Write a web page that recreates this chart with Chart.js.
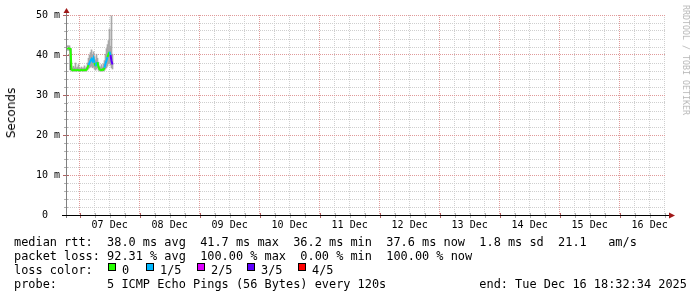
<!DOCTYPE html>
<html>
<head>
<meta charset="utf-8">
<script src="https://cdn.jsdelivr.net/npm/chart.js@4.4.1/dist/chart.umd.min.js"></script>
<style>
  body { margin: 0; background: #fff; }
  #wrap { position: relative; width: 697px; height: 297px; overflow: hidden; background: #fff; }
  #chart { position: absolute; left: 0; top: 0; }
  .txt { position: absolute; left: 14px; font-family: 'DejaVu Sans Mono', monospace; font-size: 11.9px; line-height: 14px; white-space: pre; color: #000; }
  .box { position: absolute; top: 263px; width: 6px; height: 6px; border: 1px solid #000; }
  #ylabel { position: absolute; left: 11px; top: 113px; transform: translate(-50%, -50%) rotate(-90deg); font-family: 'DejaVu Sans', sans-serif; font-size: 12px; color: #000; white-space: nowrap; }
  #credit { position: absolute; left: 686px; top: 60px; transform: translate(-50%, -50%) rotate(90deg); font-family: 'DejaVu Sans Mono', monospace; font-size: 8.3px; color: #b8b8b8; white-space: nowrap; }
</style>
</head>
<body>
<div id="wrap">
  <canvas id="chart" width="697" height="297"></canvas>
  <div id="ylabel">Seconds</div>
  <div id="credit">RRDTOOL / TOBI OETIKER</div>
  <div class="txt" style="top:235px">median rtt:  38.0 ms avg  41.7 ms max  36.2 ms min  37.6 ms now  1.8 ms sd  21.1   am/s</div>
  <div class="txt" style="top:248.5px">packet loss: 92.31 % avg  100.00 % max  0.00 % min  100.00 % now</div>
  <div class="txt" style="top:262.5px">loss color:</div>
  <div id="losslegend"></div>
  <div class="txt" style="top:276.5px">probe:       5 ICMP Echo Pings (56 Bytes) every 120s             end: Tue Dec 16 18:32:34 2025</div>
</div>
<script>
// x axis: hours relative to 07 Dec 00:00, graph covers 10 days ending Dec 16 18:32:34
const xMin = -5.457;
const xMax = 234.543;
const days = ['07 Dec', '08 Dec', '09 Dec', '10 Dec', '11 Dec', '12 Dec', '13 Dec', '14 Dec', '15 Dec', '16 Dec'];

const yTickValues = [0, 10, 20, 30, 40, 50];
const yTickLabels = ['0  ', '10 m', '20 m', '30 m', '40 m', '50 m'];

const lossColors = ['#26ff00', '#00b8ff', '#dd00ff', '#5e00ff', '#ff0000'];
const lossLabels = ['0', '1/5', '2/5', '3/5', '4/5'];

// sample times (hours), one per consolidated step, only the first ~18h have answers
const times = [-5.257, -4.857, -4.457, -4.057, -3.657, -3.257, -2.857, -2.457, -2.057, -1.657,
  -1.257, -0.857, -0.457, -0.057, 0.343, 0.743, 1.143, 1.543, 1.943, 2.343,
  2.743, 3.143, 3.543, 3.943, 4.343, 4.743, 5.143, 5.543, 5.943, 6.343,
  6.743, 7.143, 7.543, 7.943, 8.343, 8.743, 9.143, 9.543, 9.943, 10.343,
  10.743, 11.143, 11.543, 11.943, 12.343, 12.743, 13.143];

// median rtt in ms
const median = [41.7, 41.7, 41.7, 41.6, 41.5, 36.4, 36.2, 36.2, 36.3, 36.2,
  36.2, 36.3, 36.2, 36.2, 36.2, 36.3, 36.2, 36.2, 36.3, 36.2,
  36.3, 36.8, 37.5, 38.0, 38.6, 39.0, 38.5, 39.2, 38.0, 37.2,
  37.8, 38.2, 37.0, 36.4, 36.3, 36.2, 36.4, 36.3, 36.8, 37.8,
  38.6, 39.5, 40.2, 40.8, 40.0, 38.5, 37.6];

// lost pings out of 5 for each sample
const loss = [0, 0, 0, 0, 0, 0, 0, 0, 0, 0,
  0, 0, 0, 0, 0, 0, 0, 0, 0, 0,
  0, 0, 0, 1, 1, 1, 1, 1, 1, 0,
  1, 1, 0, 0, 0, 0, 0, 0, 0, 1,
  1, 1, 0, 0, 1, 3, 3];

// smoke: lowest and highest ping of each sample (ms)
const smokeLow = [41.2, 41.2, 41.2, 41.2, 36.3, 36.0, 36.0, 36.0, 36.0, 36.0,
  36.0, 36.0, 36.0, 36.0, 36.0, 36.0, 36.0, 36.0, 36.0, 36.0,
  36.0, 36.3, 36.5, 36.8, 37.0, 37.2, 36.8, 37.0, 36.5, 36.2,
  36.5, 36.8, 36.2, 36.0, 36.0, 36.0, 36.0, 36.0, 36.2, 36.5,
  36.8, 37.2, 37.8, 38.0, 37.5, 36.8, 36.5];
const smokeHigh = [42.3, 42.3, 42.3, 42.3, 41.6, 36.9, 36.7, 37.2, 36.8, 38.0,
  36.8, 37.0, 37.6, 36.8, 36.7, 37.0, 36.7, 36.8, 37.3, 36.7,
  37.0, 38.0, 39.2, 40.0, 40.6, 41.3, 40.0, 40.8, 39.6, 38.8,
  40.2, 39.2, 38.2, 37.2, 37.0, 37.6, 37.0, 37.8, 38.6, 40.2,
  41.6, 42.6, 43.6, 46.5, 42.2, 49.8, 40.2];

const majorGrid = '#e09a9a';
const minorGrid = '#cfcfcf';

// legend color boxes
const boxLeft = [108, 146, 197, 247, 298];
const legendDiv = document.getElementById('losslegend');
lossColors.forEach((c, i) => {
    const b = document.createElement('div');
    b.className = 'box';
    b.style.left = boxLeft[i] + 'px';
    b.style.background = c;
    legendDiv.appendChild(b);
    const t = document.createElement('div');
    t.className = 'txt';
    t.style.top = '262.5px';
    t.style.left = (boxLeft[i] + 14) + 'px';
    t.textContent = lossLabels[i];
    legendDiv.appendChild(t);
});

// tick lists: minor grid every 2 ms / 6 h, major every 10 ms / day
function ticksEvery(from, to, step, keep) {
    const out = [];
    for (let v = from; v <= to; v += step) if (keep(v)) out.push({ value: v });
    return out;
}

// axis lines, tick marks and arrows like rrdtool draws them
const axisDecor = {
    id: 'axisDecor',
    afterDraw(chart) {
        const ctx = chart.ctx;
        const a = chart.chartArea;
        const sc = chart.scales;
        ctx.save();
        ctx.lineWidth = 1;
        [['y', true], ['yMinor', false]].forEach(([id, major]) => {
            sc[id].ticks.forEach(t => {
                const y = Math.round(sc[id].getPixelForValue(t.value)) + 0.5;
                ctx.strokeStyle = major ? '#b06060' : '#b0b0b0';
                ctx.beginPath();
                ctx.moveTo(a.left - (major ? 3 : 2), y);
                ctx.lineTo(a.left + (major ? 3 : 2), y);
                ctx.stroke();
            });
        });
        [['xMajor', true], ['x', false]].forEach(([id, major]) => {
            sc[id].ticks.forEach(t => {
                const x = Math.round(sc[id].getPixelForValue(t.value)) + 0.5;
                ctx.strokeStyle = major ? '#b06060' : '#b0b0b0';
                ctx.beginPath();
                ctx.moveTo(x, a.bottom - 2);
                ctx.lineTo(x, a.bottom + 3);
                ctx.stroke();
            });
        });
        // y axis
        ctx.strokeStyle = '#808080';
        ctx.beginPath();
        ctx.moveTo(a.left + 0.5, a.bottom + 3);
        ctx.lineTo(a.left + 0.5, a.top - 3);
        ctx.stroke();
        // x axis
        ctx.strokeStyle = '#000';
        ctx.beginPath();
        ctx.moveTo(a.left - 4, a.bottom + 0.5);
        ctx.lineTo(a.right + 4, a.bottom + 0.5);
        ctx.stroke();
        // arrows
        ctx.fillStyle = '#a01818';
        ctx.beginPath();
        ctx.moveTo(a.left + 0.5, a.top - 7);
        ctx.lineTo(a.left - 2.5, a.top - 2);
        ctx.lineTo(a.left + 3.5, a.top - 2);
        ctx.closePath();
        ctx.fill();
        ctx.beginPath();
        ctx.moveTo(a.right + 9, a.bottom + 0.5);
        ctx.lineTo(a.right + 3, a.bottom - 2.5);
        ctx.lineTo(a.right + 3, a.bottom + 3.5);
        ctx.closePath();
        ctx.fill();
        ctx.restore();
    }
};

Chart.defaults.font.family = "'DejaVu Sans Mono', monospace";
Chart.defaults.font.size = 10;
Chart.defaults.color = '#000';

const smokeData = times.map((t, i) => ({ x: t, y: [smokeLow[i], smokeHigh[i]] }));
const medianData = times.map((t, i) => ({ x: t, y: median[i] }));

new Chart(document.getElementById('chart'), {
    type: 'bar',
    data: {
        datasets: [{
            type: 'line',
            data: medianData,
            borderColor: lossColors[0],
            borderWidth: 2,
            pointRadius: 0,
            segment: {
                borderColor: c => lossColors[loss[c.p1DataIndex]]
            },
            order: 0
        }, {
            type: 'bar',
            data: smokeData,
            backgroundColor: times.map((t, i) => i === 4 ? '#202020' : '#a8a8a8'),
            borderWidth: 0,
            barThickness: 1,
            order: 1
        }]
    },
    options: {
        responsive: false,
        animation: false,
        layout: { padding: { top: 15, right: 31, left: 0, bottom: 0 } },
        plugins: { legend: { display: false }, tooltip: { enabled: false } },
        scales: {
            x: {
                type: 'linear',
                position: 'bottom',
                min: xMin,
                max: xMax,
                offset: false,
                afterFit: s => { s.height = 82; },
                afterBuildTicks: s => { s.ticks = ticksEvery(0, xMax, 6, v => v % 24 !== 0); },
                ticks: {
                    autoSkip: false,
                    maxRotation: 0,
                    padding: 4,
                    callback: v => (v % 24 === 12) ? days[(v - 12) / 24] : ''
                },
                grid: { offset: false, color: minorGrid, drawTicks: false },
                border: { display: false, dash: [1, 1] }
            },
            xMajor: {
                type: 'linear',
                position: 'bottom',
                min: xMin,
                max: xMax,
                offset: false,
                afterFit: s => { s.height = 0; },
                afterBuildTicks: s => { s.ticks = ticksEvery(0, xMax, 24, v => true); },
                ticks: { display: false, autoSkip: false },
                grid: { offset: false, color: majorGrid, drawTicks: false },
                border: { display: false, dash: [1, 1] }
            },
            y: {
                position: 'left',
                min: 0,
                max: 50,
                afterFit: s => { s.width = 66; },
                afterBuildTicks: s => { s.ticks = yTickValues.map(v => ({ value: v })); },
                ticks: {
                    autoSkip: false,
                    padding: 6,
                    callback: (v, i) => yTickLabels[i]
                },
                grid: { color: majorGrid, drawTicks: false },
                border: { display: false, dash: [1, 1] }
            },
            yMinor: {
                position: 'left',
                min: 0,
                max: 50,
                afterFit: s => { s.width = 0; },
                afterBuildTicks: s => { s.ticks = ticksEvery(0, 50, 2, v => v % 10 !== 0); },
                ticks: { display: false, autoSkip: false },
                grid: { color: minorGrid, drawTicks: false },
                border: { display: false, dash: [1, 1] }
            }
        }
    },
    plugins: [axisDecor]
});
</script>
</body>
</html>
